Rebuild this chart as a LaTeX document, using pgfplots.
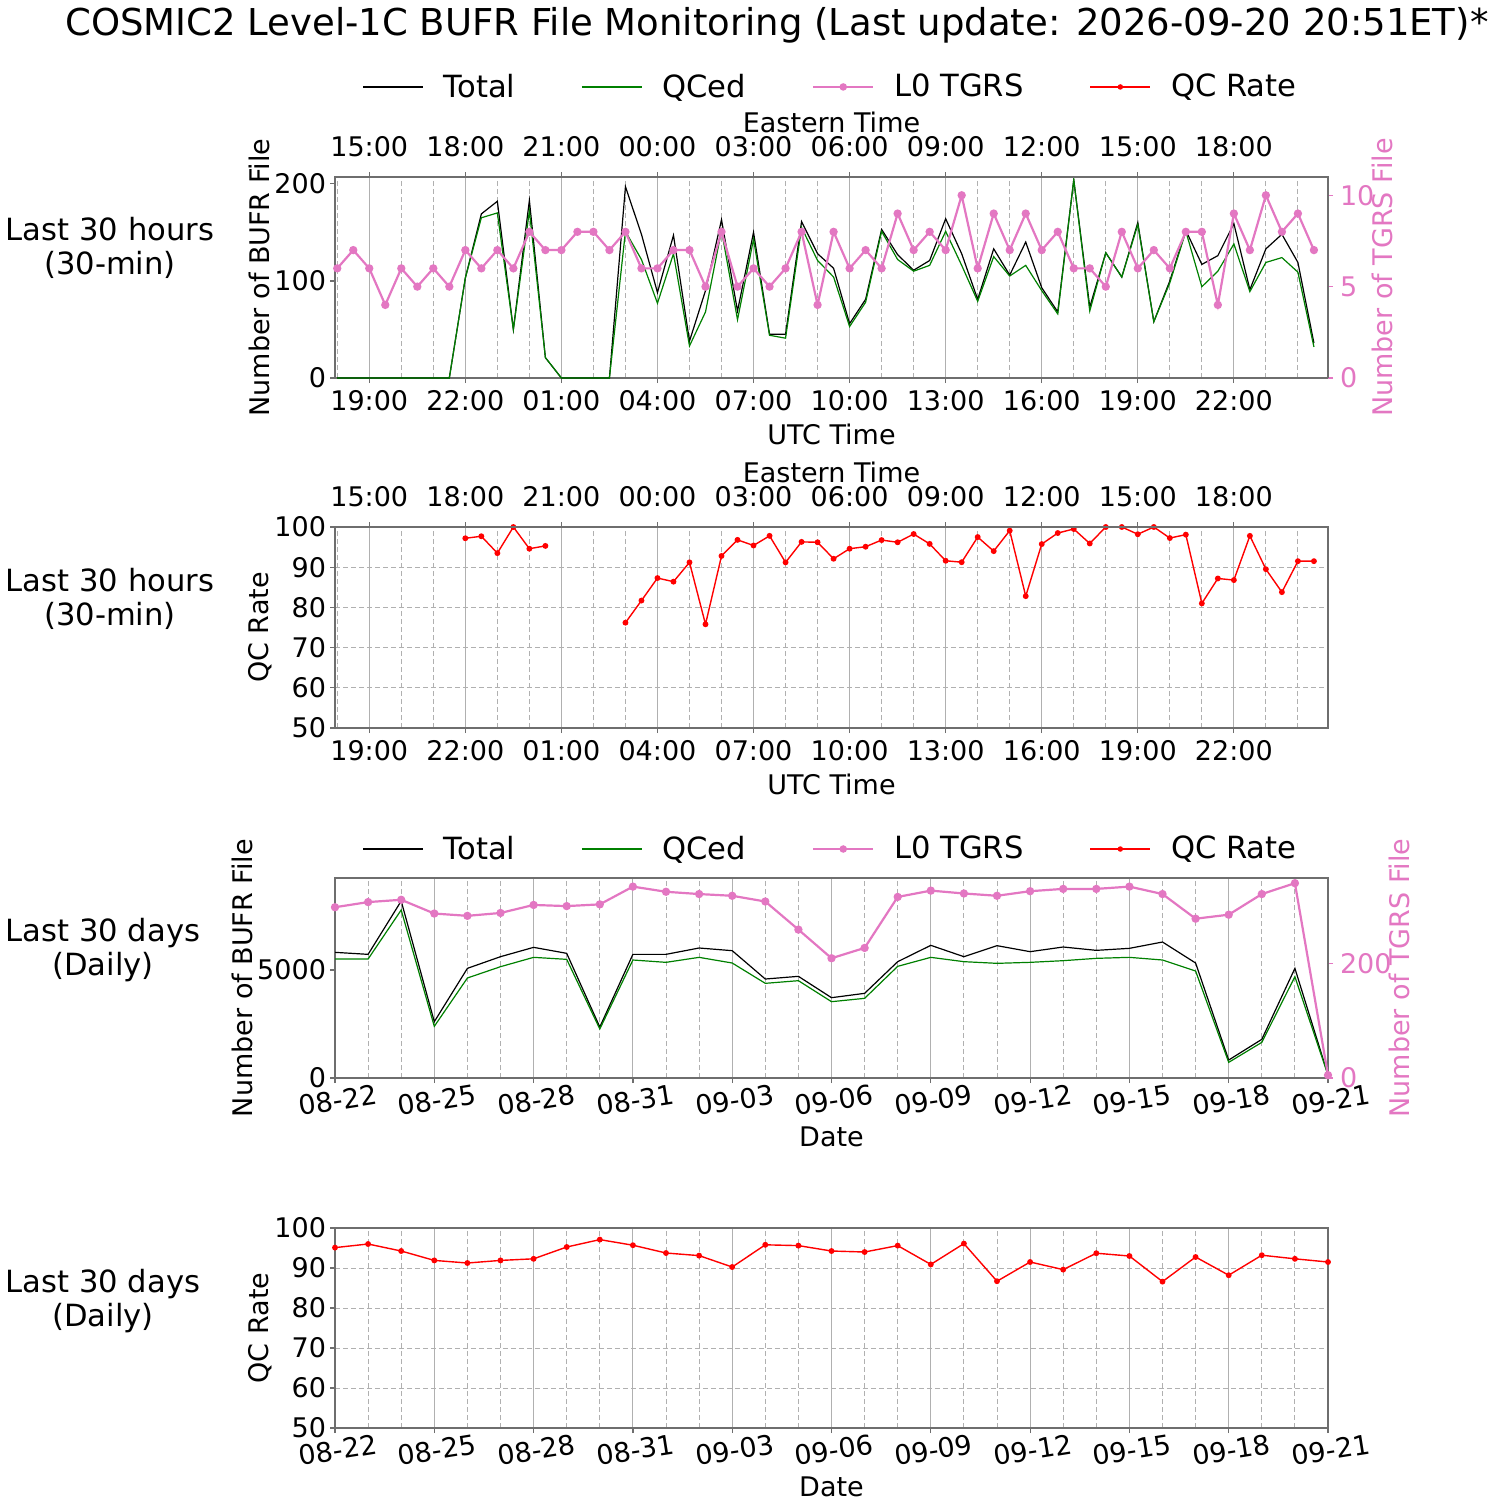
\documentclass[border=0pt]{standalone}
\usepackage{pgfplots}
\pgfplotsset{compat=1.18}
\usepackage{pgfplotstable}
\usepackage{fontspec}
\setmainfont{DejaVu Sans}

\definecolor{tpink}{HTML}{E377C2}
\definecolor{qgreen}{HTML}{008000}
\definecolor{gridgray}{HTML}{B0B0B0}
\definecolor{spine}{HTML}{6E6E6E}

\newcommand\fT{\fontsize{18.5bp}{22bp}\selectfont}
\newcommand\fL{\fontsize{15.3bp}{17bp}\selectfont}
\newcommand\fK{\fontsize{13.5bp}{16bp}\selectfont}

% 30-min counts: x in hours (UTC, 18 = 18:00 of day 1)
\pgfplotstableread{
x    total qced tgrs
18.0 0   0   6
18.5 0   0   7
19.0 0   0   6
19.5 0   0   4
20.0 0   0   6
20.5 0   0   5
21.0 0   0   6
21.5 0   0   5
22.0 103 103 7
22.5 169 165 6
23.0 182 170 7
23.5 50  50  6
24.0 183 172 8
24.5 21  21  7
25.0 0   0   7
25.5 0   0   8
26.0 0   0   8
26.5 0   0   7
27.0 197 151 8
27.5 148 122 6
28.0 88  77  6
28.5 147 128 7
29.0 38  33  7
29.5 90  68  5
30.0 163 152 8
30.5 69  60  5
31.0 150 143 6
31.5 45  44  5
32.0 45  41  6
32.5 161 155 8
33.0 128 121 4
33.5 113 104 8
34.0 56  53  6
34.5 81  78  7
35.0 153 151 6
35.5 127 122 9
36.0 111 110 7
36.5 121 116 8
37.0 164 151 7
37.5 128 116 10
38.0 81  79  6
38.5 133 125 9
39.0 106 105 7
39.5 140 116 9
40.0 93  90  7
40.5 68  66  8
41.0 204 204 6
41.5 73  69  6
42.0 129 129 5
42.5 104 104 8
43.0 160 158 6
43.5 58  58  7
44.0 100 98  6
44.5 152 151 8
45.0 117 94  8
45.5 126 110 4
46.0 159 138 9
46.5 91  89  7
47.0 133 119 10
47.5 148 124 8
48.0 119 109 9
48.5 36  32  7
}\hourly

\pgfplotstableread{
x    rate
22.0 97.2
22.5 97.7
23.0 93.5
23.5 100
24.0 94.6
24.5 95.3
25.0 nan
27.0 76.2
27.5 81.7
28.0 87.3
28.5 86.4
29.0 91.2
29.5 75.8
30.0 92.8
30.5 96.8
31.0 95.4
31.5 97.8
32.0 91.2
32.5 96.3
33.0 96.2
33.5 92.1
34.0 94.6
34.5 95.1
35.0 96.75
35.5 96.2
36.0 98.25
36.5 95.8
37.0 91.6
37.5 91.25
38.0 97.5
38.5 94.0
39.0 99.1
39.5 82.8
40.0 95.75
40.5 98.5
41.0 99.5
41.5 95.9
42.0 100
42.5 100
43.0 98.2
43.5 100
44.0 97.25
44.5 98.1
45.0 81.0
45.5 87.2
46.0 86.8
46.5 97.8
47.0 89.5
47.5 83.8
48.0 91.5
48.5 91.5
}\hourlyrate

% daily: d = days since 08-22
\pgfplotstableread{
d  total qced tgrs rate
0  5818 5509 298 95.1
1  5725 5509 307 96.0
2  8194 7778 311 94.25
3  2608 2392 287 91.9
4  5077 4630 283 91.25
5  5617 5154 288 91.9
6  6049 5586 302 92.3
7  5772 5494 300 95.25
8  2361 2269 303 97.1
9  5725 5463 334 95.7
10 5725 5355 325 93.75
11 6019 5586 321 93.1
12 5895 5324 318 90.25
13 4583 4383 308 95.8
14 4707 4506 259 95.6
15 3719 3534 209 94.25
16 3920 3688 227 94.0
17 5386 5170 316 95.6
18 6142 5586 327 90.9
19 5617 5386 322 96.1
20 6127 5309 318 86.7
21 5849 5355 326 91.5
22 6065 5432 330 89.6
23 5910 5540 330 93.7
24 6003 5586 334 93.0
25 6296 5463 321 86.6
26 5324 4954 278 92.75
27 833  725  285 88.2
28 1790 1651 321 93.2
29 5077 4691 340 92.3
30 150  130  5   91.5
}\daily

\pgfplotsset{
  base/.style={
    scale only axis, width=496.5bp, anchor=north west,
    axis line style={spine, line width=0.6bp},
    tick style={spine, line width=0.6bp},
    tick align=outside, major tick length=2.5bp, minor tick length=0pt,
    tick label style={font=\fK}, label style={font=\fK},
    yticklabel style={xshift=1.5bp},
    ylabel style={yshift=-4.5bp},
    /pgf/number format/assume math mode=true,
    /pgf/number format/set thousands separator={},
    major x grid style={gridgray, line width=0.5bp},
    minor x grid style={gridgray, line width=0.5bp, dash pattern=on 2.5bp off 1.5bp},
    major y grid style={gridgray, line width=0.5bp, dash pattern=on 2.5bp off 1.5bp},
    legend image code/.code={\draw[mark repeat=2,mark phase=2,##1] plot coordinates {(0bp,0bp) (15bp,0bp) (30bp,0bp)};},
  },
  hourx/.style={
    xmin=17.93, xmax=48.94,
    xtick={19,22,25,28,31,34,37,40,43,46},
    minor xtick={18,20,21,23,24,26,27,29,30,32,33,35,36,38,39,41,42,44,45,47,48},
  },
  dayx/.style={
    xmin=0, xmax=30,
    xtick={0,3,...,30},
    minor xtick={1,2,4,5,7,8,10,11,13,14,16,17,19,20,22,23,25,26,28,29},
    xticklabels={08-22,08-25,08-28,08-31,09-03,09-06,09-09,09-12,09-15,09-18,09-21},
    xticklabel style={rotate=9, anchor=north},
    xlabel style={yshift=2bp},
  },
  utc/.style={xticklabels={19:00,22:00,01:00,04:00,07:00,10:00,13:00,16:00,19:00,22:00}},
  et/.style={xticklabels={15:00,18:00,21:00,00:00,03:00,06:00,09:00,12:00,15:00,18:00},
    xticklabel style={yshift=4bp}, xlabel style={yshift=-5bp}},
  rightlab/.style={
    y tick label style={tpink, xshift=-1.5bp}, ytick style={tpink},
    ylabel style={tpink, yshift=12.5bp}},
  legendall/.style={
    legend style={at={(0.5,#1)}, anchor=center, draw=none, fill=none,
      font=\fL, legend columns=4,
      /tikz/every odd column/.append style={column sep=8bp},
      /tikz/every even column/.append style={column sep=31bp}},
  },
}

\begin{document}
\begin{tikzpicture}
\path[use as bounding box] (0,0) rectangle (750bp,-753bp);

% ---------- panel 1: 30-min counts ----------
\begin{axis}[base, hourx, utc, at={(167.5bp,-88.5bp)}, height=100.5bp,
  xtick pos=bottom, ytick pos=left,
  xmajorgrids, xminorgrids,
  ymin=0, ymax=207, ytick={0,100,200},
  xlabel={UTC Time}, ylabel={Number of BUFR File}]
\addplot[black, line width=0.6bp] table[x=x, y=total] {\hourly};
\addplot[qgreen, line width=0.6bp] table[x=x, y=qced] {\hourly};
\end{axis}
\begin{axis}[base, hourx, et, rightlab, at={(167.5bp,-88.5bp)}, height=100.5bp,
  axis x line*=top, axis y line*=right,
  ymin=0, ymax=11, ytick={0,5,10},
  xlabel={Eastern Time}, ylabel={Number of TGRS File},
  legendall=1.448]
\addlegendimage{black, line width=0.6bp}\addlegendentry{Total}
\addlegendimage{qgreen, line width=0.6bp}\addlegendentry{QCed}
\addlegendimage{tpink, line width=1.1bp, mark=*, mark size=1.3bp}\addlegendentry{L0 TGRS}
\addlegendimage{red, line width=0.7bp, mark=*, mark size=1bp}\addlegendentry{QC Rate}
\addplot[tpink, line width=1.1bp, mark=*, mark size=1.5bp, forget plot] table[x=x, y=tgrs] {\hourly};
\end{axis}

% ---------- panel 2: 30-min QC rate ----------
\begin{axis}[base, hourx, utc, at={(167.5bp,-263.5bp)}, height=100.5bp,
  xtick pos=bottom, ytick pos=left,
  xmajorgrids, xminorgrids, ymajorgrids,
  ymin=50, ymax=100, ytick={50,60,...,100},
  unbounded coords=jump,
  xlabel={UTC Time}, ylabel={QC Rate}, ylabel style={yshift=-1bp}]
\addplot[red, line width=0.7bp, mark=*, mark size=1.1bp] table[x=x, y=rate] {\hourlyrate};
\end{axis}
\begin{axis}[base, hourx, et, at={(167.5bp,-263.5bp)}, height=100.5bp,
  axis x line*=top, hide y axis, ymin=50, ymax=100,
  xlabel={Eastern Time}]
\end{axis}

% ---------- panel 3: daily counts ----------
\begin{axis}[base, dayx, at={(167.5bp,-439bp)}, height=100bp,
  xtick pos=bottom, ytick pos=left,
  xmajorgrids, xminorgrids,
  ymin=0, ymax=9259, ytick={0,5000},
  xlabel={Date}, ylabel={Number of BUFR File}]
\addplot[black, line width=0.6bp] table[x=d, y=total] {\daily};
\addplot[qgreen, line width=0.6bp] table[x=d, y=qced] {\daily};
\end{axis}
\begin{axis}[base, rightlab, xmin=0, xmax=30, at={(167.5bp,-439bp)}, height=100bp,
  hide x axis, axis y line*=right,
  ymin=0, ymax=349, ytick={0,200},
  ylabel={Number of TGRS File},
  legendall=1.145]
\addlegendimage{black, line width=0.6bp}\addlegendentry{Total}
\addlegendimage{qgreen, line width=0.6bp}\addlegendentry{QCed}
\addlegendimage{tpink, line width=1.1bp, mark=*, mark size=1.3bp}\addlegendentry{L0 TGRS}
\addlegendimage{red, line width=0.7bp, mark=*, mark size=1bp}\addlegendentry{QC Rate}
\addplot[tpink, line width=1.1bp, mark=*, mark size=1.5bp, forget plot] table[x=d, y=tgrs] {\daily};
\end{axis}

% ---------- panel 4: daily QC rate ----------
\begin{axis}[base, dayx, at={(167.5bp,-614bp)}, height=100bp,
  xtick pos=bottom, ytick pos=left,
  xmajorgrids, xminorgrids, ymajorgrids,
  ymin=50, ymax=100, ytick={50,60,...,100},
  xlabel={Date}, ylabel={QC Rate}, ylabel style={yshift=-1bp}]
\addplot[red, line width=0.7bp, mark=*, mark size=1.1bp] table[x=d, y=rate] {\daily};
\end{axis}

% ---------- titles ----------
\node[font=\fT, anchor=base] at (388.5bp,-17.5bp)
  {COSMIC2 Level-1C BUFR File Monitoring (Last update: 2026-09-20 20:51ET)*};
\node[font=\fL, align=center] at (55bp,-124bp) {Last 30 hours\\(30-min)};
\node[font=\fL, align=center] at (55bp,-299.5bp) {Last 30 hours\\(30-min)};
\node[font=\fL, align=center] at (51.5bp,-475bp) {Last 30 days\\(Daily)};
\node[font=\fL, align=center] at (51.5bp,-650.5bp) {Last 30 days\\(Daily)};
\end{tikzpicture}
\end{document}
